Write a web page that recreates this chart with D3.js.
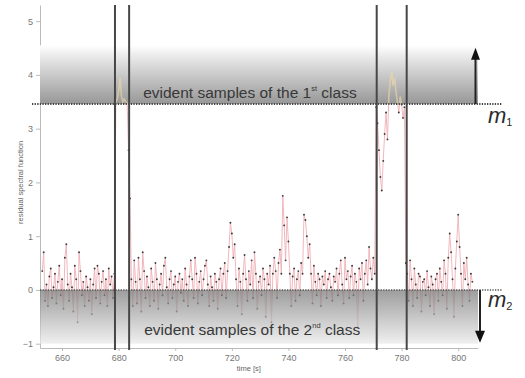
<!DOCTYPE html>
<html>
<head>
<meta charset="utf-8">
<script src="https://cdn.jsdelivr.net/npm/d3@7"></script>
<style>
  body { margin: 0; background: #fff; }
  svg { display: block; font-family: "Liberation Sans", Arial, sans-serif; }
</style>
</head>
<body>
<svg width="525" height="378"></svg>
<script>
// sampling grid of the residual signal
const t0 = 653;
const dt = 0.5;

// residual spectral function, one value per sample
const residual = [
  0.35, 0.7, -0.2, 0.1, -0.3, 0.25, 0.4, -0.15, 0.05, 0.3,
  -0.25, 0.15, 0.45, -0.1, 0.2, -0.35, 0.6, 0.85, 0.1, -0.2,
  0.3, 0.05, -0.4, 0.45, 0.2, -0.6, 0.7, 0.35, -0.1, 0.15,
  -0.3, 0.25, 0.05, -0.2, 0.2, -0.45, 0.1, 0.4, -0.15, 0.45,
  0.3, -0.25, 0.15, 0.35, -0.1, 0.2, -0.3, 0.4, 0.1, 0.25,
  -0.15, 0.3, 3.5, 3.55, 3.7, 3.95, 3.6, 3.5, 3.55, 3.5,
  3.48, 2.6, 1.7, 0.2, -0.3, 0.55, 0.15, -0.25, 0.6, 0.2,
  -0.4, 0.7, 0.35, -0.15, 0.25, 0.05, -0.3, 0.4, 0.15, -0.2,
  0.5, 0.2, -0.35, 0.1, 0.3, -0.1, 0.45, 0.6, 0.05, -0.25,
  0.2, 0.35, -0.15, 0.1, 0.25, -0.4, 0.15, 0.3, -0.05, 0.2,
  -0.2, 0.4, 0.1, -0.3, 0.25, 0.55, 0.2, -0.15, 0.6, 0.3,
  -0.25, 0.15, 0.35, -0.1, 0.2, 0.45, 0.55, 0.1, -0.3, 0.25,
  0.05, -0.2, 0.3, 0.15, -0.35, 0.2, 0.4, -0.1, 0.3, 0.5,
  -0.15, 0.35, 0.8, 1.25, 1.05, 0.6, 0.85, 0.2, -0.3, 0.4,
  0.15, -0.45, 0.3, 0.65, 0.2, -0.2, 0.35, 0.1, 0.55, -0.15,
  0.7, 0.3, -0.35, 0.15, 0.25, -0.1, 0.4, 0.2, -0.5, 0.3,
  0.1, 0.45, -0.6, 0.3, 0.6, 0.35, -0.15, 0.5, 0.75, 0.3,
  1.75, 1.2, 0.55, 1.35, 0.9, 0.3, -0.3, 0.25, 0.4, -0.2,
  0.2, 0.35, -0.1, 0.5, 0.3, 1.4, 1.3, 1.0, 0.6, 0.85,
  0.3, -0.25, 0.45, 0.15, -0.1, 0.3, 0.2, -0.3, 0.25, 0.1,
  0.35, -0.15, 0.2, 0.3, 0.05, -0.2, 0.25, 0.15, 0.4, -0.1,
  0.3, 0.55, 0.1, -0.25, 0.6, 0.2, 0.35, -0.15, 0.25, 0.45,
  -0.1, 0.3, 0.15, -0.7, 0.4, 0.2, 0.5, -0.2, 0.3, 0.55,
  0.1, 0.8, 0.4, 0.2, 0.6, 0.3, 3.4, 3.1, 2.6, 2.1,
  1.85, 2.4, 2.9, 3.3, 2.8, 3.6, 3.9, 4.05, 3.8, 3.95,
  3.7, 3.5, 3.3, 3.6, 3.45, 3.2, 3.4, 0.5, 0.3, -0.2,
  0.55, 0.2, -0.3, 0.4, 0.1, -0.15, 0.3, 0.25, -0.4, 0.15,
  0.2, -0.1, 0.35, 0.05, -0.3, 0.25, 0.1, -0.45, 0.2, 0.3,
  -0.2, 0.4, 0.15, -0.1, 0.55, 0.3, -0.35, 0.6, 1.05, 0.7,
  0.2, -0.5, 0.4, 0.9, 1.4, 0.8, 0.3, -0.3, 0.5, 0.2,
  0.6, 0.1, -0.2, 0.3, 0.15
];

const xTicks = [660, 680, 700, 720, 740, 760, 780, 800];
const yTicks = [-1, 0, 1, 2, 3, 4, 5];

// thresholds and segment boundaries
const m1 = 3.46;
const m2 = 0;
const m1BandTop = 4.55;
const m2BandBottom = -1.0;
const boundaries = [678.7, 683.7, 771.2, 781.8];

const points = residual.map((v, i) => ({t: t0 + i * dt, v}));

const svg = d3.select('svg');
const margin = {top: 5, right: 47, bottom: 30, left: 40};
const width = +svg.attr('width') - margin.left - margin.right;
const height = +svg.attr('height') - margin.top - margin.bottom;

const x = d3.scaleLinear().domain([652.2, 807]).range([0, width]);
const y = d3.scaleLinear().domain([-1.08, 5.3]).range([height, 0]);

const defs = svg.append('defs');

const g1 = defs.append('linearGradient').attr('id', 'gradTop')
  .attr('x1', 0).attr('y1', 0).attr('x2', 0).attr('y2', 1);
g1.append('stop').attr('offset', '0%').attr('stop-color', '#ffffff');
g1.append('stop').attr('offset', '15%').attr('stop-color', '#eeeeee');
g1.append('stop').attr('offset', '100%').attr('stop-color', '#979797');

const g2 = defs.append('linearGradient').attr('id', 'gradBottom')
  .attr('x1', 0).attr('y1', 0).attr('x2', 0).attr('y2', 1);
g2.append('stop').attr('offset', '0%').attr('stop-color', '#777');
g2.append('stop').attr('offset', '100%').attr('stop-color', '#eaeaea');

defs.append('clipPath').attr('id', 'below')
  .append('rect').attr('x', -5).attr('y', y(m1)).attr('width', width + 10).attr('height', height - y(m1));
defs.append('clipPath').attr('id', 'above')
  .append('rect').attr('x', -5).attr('y', 0).attr('width', width + 10).attr('height', y(m1));

const g = svg.append('g').attr('transform', `translate(${margin.left},${margin.top})`);

// axes
g.append('g')
  .attr('class', 'axis')
  .attr('transform', `translate(0,${height})`)
  .call(d3.axisBottom(x).tickValues(xTicks).tickFormat(d3.format('d')).tickSize(3).tickPadding(4).tickSizeOuter(0));
g.append('g')
  .attr('class', 'axis')
  .call(d3.axisLeft(y).tickValues(yTicks).tickFormat(d3.format('d')).tickSize(4).tickPadding(3).tickSizeOuter(0));
g.selectAll('.axis path, .axis line').attr('stroke', '#bbb');
g.selectAll('.axis text').attr('fill', '#777').attr('font-size', 9);

const line = d3.line().x(d => x(d.t)).y(d => y(d.v));

// residual below m1
const lower = g.append('g').attr('clip-path', 'url(#below)');
lower.append('path')
  .datum(points)
  .attr('fill', 'none')
  .attr('stroke', '#eeb0b6')
  .attr('stroke-width', 0.9)
  .attr('d', line);
lower.selectAll('circle')
  .data(points)
  .enter().append('circle')
    .attr('cx', d => x(d.t))
    .attr('cy', d => y(d.v))
    .attr('r', 0.95)
    .attr('fill', '#3a3a3a');

// 2nd class band
g.append('rect')
  .attr('x', 0)
  .attr('y', y(m2))
  .attr('width', width)
  .attr('height', y(m2BandBottom) - y(m2))
  .attr('fill', 'url(#gradBottom)')
  .attr('opacity', 0.72);

// 1st class band
g.append('rect')
  .attr('x', 0)
  .attr('y', y(m1BandTop))
  .attr('width', width)
  .attr('height', y(m1) - y(m1BandTop))
  .attr('fill', 'url(#gradTop)');

// residual above m1
g.append('path')
  .datum(points)
  .attr('clip-path', 'url(#above)')
  .attr('fill', 'none')
  .attr('stroke', '#efd9a8')
  .attr('stroke-width', 1.6)
  .attr('opacity', 0.6)
  .attr('d', line);

// thresholds
g.append('line')
  .attr('x1', -8).attr('x2', width + 24)
  .attr('y1', y(m1)).attr('y2', y(m1))
  .attr('stroke', '#444').attr('stroke-width', 2).attr('stroke-dasharray', '1.3,1.3');
g.append('line')
  .attr('x1', 0).attr('x2', width + 24)
  .attr('y1', y(m2)).attr('y2', y(m2))
  .attr('stroke', '#555').attr('stroke-width', 1.6).attr('stroke-dasharray', '1.3,1.3');

// segment boundaries
g.selectAll('.boundary')
  .data(boundaries)
  .enter().append('line')
    .attr('class', 'boundary')
    .attr('x1', d => x(d)).attr('x2', d => x(d))
    .attr('y1', 0).attr('y2', height + 2)
    .attr('stroke', '#474747')
    .attr('stroke-width', 2);

// arrows
const upX = width - 2.5;
g.append('line')
  .attr('x1', upX).attr('x2', upX)
  .attr('y1', y(m1)).attr('y2', y(4.3))
  .attr('stroke', '#222').attr('stroke-width', 2);
g.append('path')
  .attr('d', `M${upX - 4.5},${y(4.3) + 1}L${upX + 4.5},${y(4.3) + 1}L${upX},${y(4.3) - 11}Z`)
  .attr('fill', '#111');

const downX = width + 2;
g.append('line')
  .attr('x1', downX).attr('x2', downX)
  .attr('y1', y(m2)).attr('y2', y(-0.78))
  .attr('stroke', '#222').attr('stroke-width', 2);
g.append('path')
  .attr('d', `M${downX - 5},${y(-0.78) - 1}L${downX + 5},${y(-0.78) - 1}L${downX},${y(-0.78) + 11}Z`)
  .attr('fill', '#111');

// band captions
const cap1 = g.append('text')
  .attr('x', x(726.4))
  .attr('y', y(m1) - 6)
  .attr('text-anchor', 'middle')
  .attr('font-size', 15.5)
  .attr('fill', '#383838');
cap1.append('tspan').text('evident samples of the 1');
cap1.append('tspan').attr('font-size', 7.5).attr('dy', -7).text('st');
cap1.append('tspan').attr('dy', 7).text(' class');

const cap2 = g.append('text')
  .attr('x', x(727.2))
  .attr('y', y(-0.83))
  .attr('text-anchor', 'middle')
  .attr('font-size', 15.5)
  .attr('fill', '#383838');
cap2.append('tspan').text('evident samples of the 2');
cap2.append('tspan').attr('font-size', 7.5).attr('dy', -7).text('nd');
cap2.append('tspan').attr('dy', 7).text(' class');

// threshold labels
[[m1, '1', 19], [m2, '2', 17]].forEach(([m, sub, dy]) => {
  const t = g.append('text')
    .attr('x', width + 10)
    .attr('y', y(m) + dy)
    .attr('font-style', 'italic')
    .attr('font-size', 22)
    .attr('fill', '#2a2a2a');
  t.append('tspan').text('m');
  t.append('tspan').attr('font-size', 11).attr('font-style', 'normal').attr('dy', 3).text(sub);
});

// axis titles
g.append('text')
  .attr('x', x(726))
  .attr('y', height + 23)
  .attr('text-anchor', 'middle')
  .attr('font-size', 7.5)
  .attr('fill', '#666')
  .text('time [s]');
g.append('text')
  .attr('transform', `translate(${-17},${y(2.0)}) rotate(-90)`)
  .attr('text-anchor', 'middle')
  .attr('font-size', 7.5)
  .attr('fill', '#666')
  .text('residual spectral function');
</script>
</body>
</html>
